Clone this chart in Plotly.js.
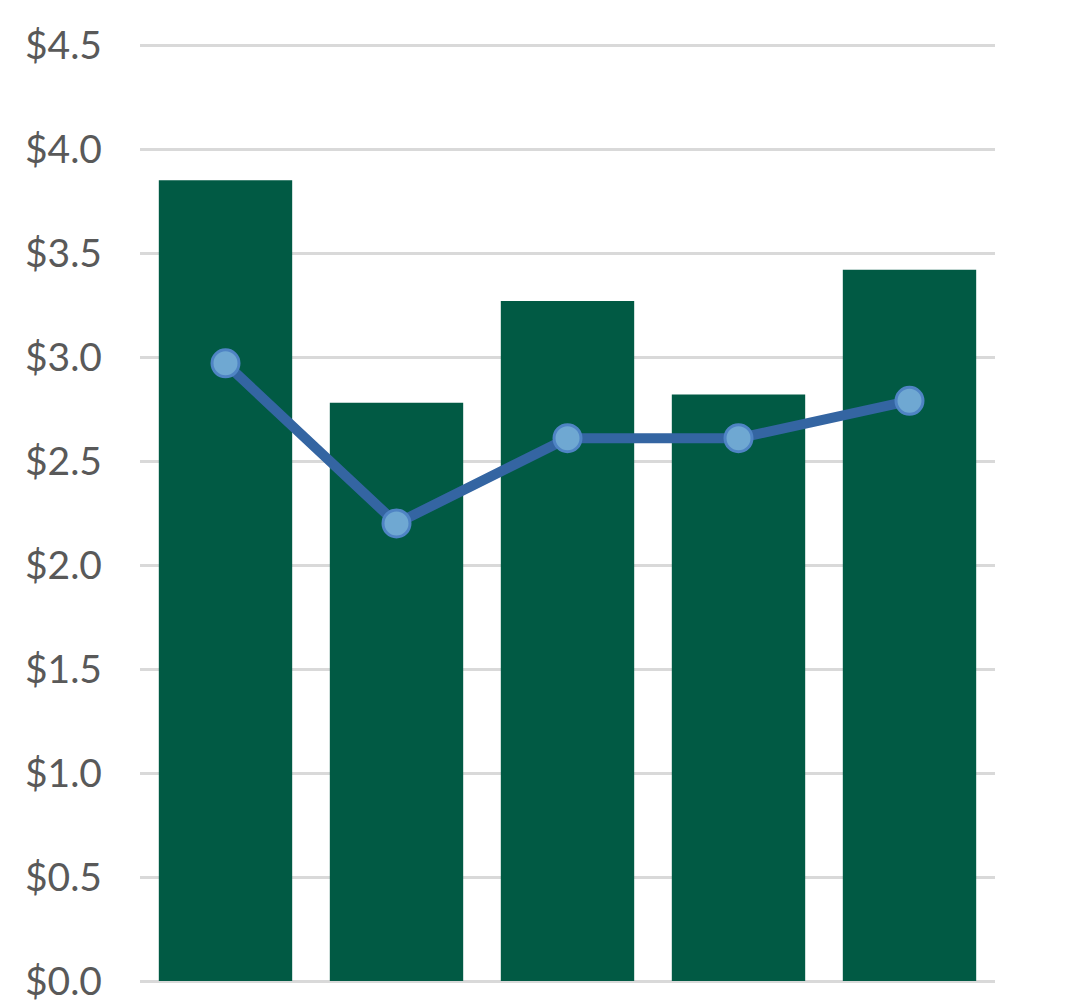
<!DOCTYPE html>
<html>
<head>
<meta charset="utf-8">
<script src="https://cdn.plot.ly/plotly-3.0.1.min.js"></script>
<style>html,body{margin:0;padding:0;background:#fff;}#chart{width:1074px;height:1006px;}</style>
</head>
<body>
<div id="chart"></div>
<script>
var categories = ["A", "B", "C", "D", "E"];
var barValues = [3.85, 2.78, 3.27, 2.82, 3.42];
var lineValues = [2.97, 2.20, 2.61, 2.61, 2.79];
var tickValues = [0, 0.5, 1, 1.5, 2, 2.5, 3, 3.5, 4, 4.5];
var tickLabels = ["$0.0", "$0.5", "$1.0", "$1.5", "$2.0", "$2.5", "$3.0", "$3.5", "$4.0", "$4.5"];

var data = [
  {
    type: "bar",
    x: categories,
    y: barValues,
    marker: {color: "#015a44"},
    hoverinfo: "y"
  },
  {
    type: "scatter",
    mode: "lines+markers",
    x: categories,
    y: lineValues,
    line: {color: "#3465a2", width: 10},
    marker: {size: 27, color: "#6fa8d2", line: {color: "#4f84c4", width: 3}},
    hoverinfo: "y"
  }
];

var layout = {
  width: 1074,
  height: 1006,
  margin: {l: 140, r: 79, t: 41, b: 25},
  paper_bgcolor: "#ffffff",
  plot_bgcolor: "#ffffff",
  showlegend: false,
  bargap: 0.22,
  font: {family: "Lato, 'Open Sans', sans-serif", color: "#595959"},
  xaxis: {
    type: "category",
    showticklabels: false,
    showgrid: false,
    zeroline: false,
    showline: false,
    ticks: ""
  },
  yaxis: {
    range: [0, 4.52],
    tickvals: tickValues,
    ticktext: tickLabels,
    showgrid: true,
    gridcolor: "#d9d9d9",
    gridwidth: 3,
    zeroline: true,
    zerolinecolor: "#d9d9d9",
    zerolinewidth: 3,
    showline: false,
    ticks: "",
    ticklabelstandoff: 37,
    tickfont: {size: 39, color: "#595959", family: "Lato, 'Open Sans', sans-serif"}
  }
};

Plotly.newPlot("chart", data, layout, {displayModeBar: false, staticPlot: true});
</script>
</body>
</html>
